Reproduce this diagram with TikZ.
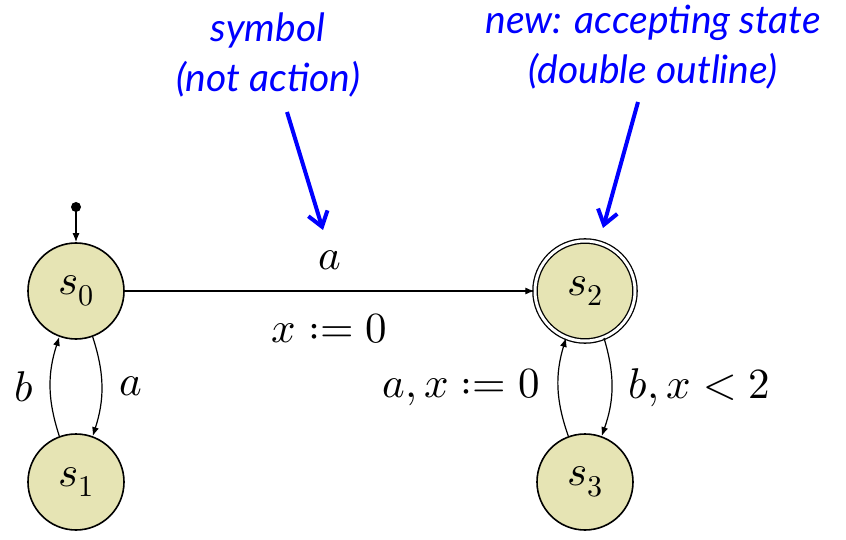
\documentclass[tikz,border=0pt]{standalone}
\usepackage{unicode-math}
\setmathfont{Latin Modern Math}
\newfontfamily\notefont{Lato}
\usetikzlibrary{arrows.meta}
\definecolor{statefill}{RGB}{230,228,180}
\definecolor{noteblue}{RGB}{0,0,255}
\begin{document}
\begin{tikzpicture}[x=1pt,y=-1pt,
  state/.style={circle,draw=black,line width=1.6pt,fill=statefill,minimum size=96pt,inner sep=0pt,font=\fontsize{43}{50}\selectfont},
  accept/.style={state,double=white,double distance=3pt,line width=1.3pt,minimum size=100pt},
  edge/.style={line width=1.2pt,-{Latex[length=9pt,width=7pt]}},
  lbl/.style={font=\fontsize{43}{50}\selectfont,inner sep=2pt},
  note/.style={text=noteblue,font=\notefont\itshape\fontsize{39}{50}\selectfont,align=center},
  notearrow/.style={draw=noteblue,line width=4pt,-{Straight Barb[length=14pt,width=20pt,line width=4pt]}}]
\useasboundingbox (0,0) rectangle (846,540);
\node[state] (s0) at (76,291) {$s_0$};
\node[state] (s1) at (76,482) {$s_1$};
\node[accept] (s2) at (585,291) {$s_2$};
\node[state] (s3) at (585,482) {$s_3$};
\coordinate (init) at (76,207);
\fill (init) circle (5pt);
\draw[edge] (init) -- (s0);
\draw[edge] (s0) -- node[lbl,above=18pt] {$a$} node[lbl,below=20pt] {$x := 0$} (s2);
\draw[edge] (s0.-70) to[bend left=18] node[lbl,right=15pt] {$a$} (s1.70);
\draw[edge] (s1.110) to[bend left=18] node[lbl,left=14pt] {$b$} (s0.-110);
\draw[edge] (s2.-68) to[bend left=18] node[lbl,right=14pt] {$b, x < 2$} (s3.70);
\draw[edge] (s3.110) to[bend left=18] node[lbl,left=16pt] {$a, x := 0$} (s2.-112);
\node[note] (n1) at (268,55) {symbol\\(not action)};
\node[note] (n2) at (653,47) {new: accepting state\\(double outline)};
\coordinate (t1s) at (287,112);
\coordinate (t1e) at (323,230);
\coordinate (t2s) at (638,102);
\coordinate (t2e) at (603,228);
\draw[notearrow] (t1s) -- (t1e);
\draw[notearrow] (t2s) -- (t2e);
\end{tikzpicture}
\end{document}
